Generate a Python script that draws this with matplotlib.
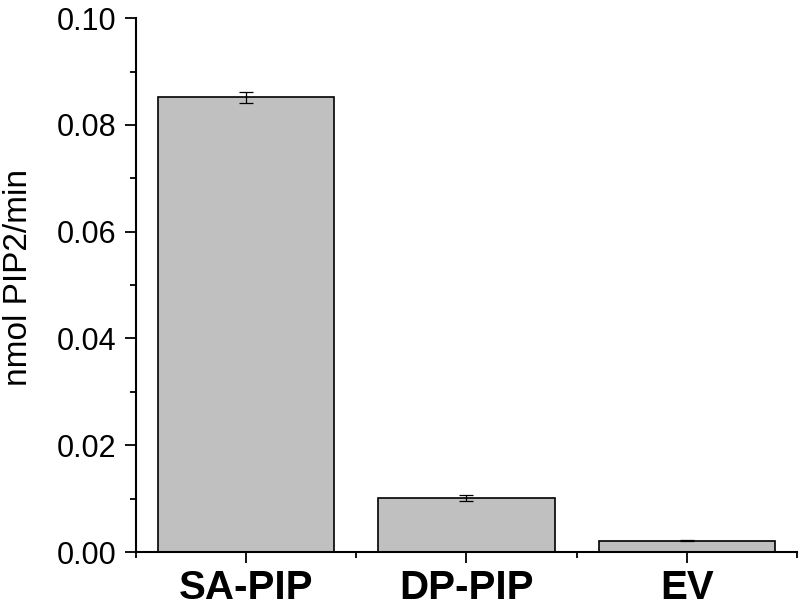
import matplotlib
matplotlib.use("Agg")
import matplotlib.pyplot as plt
from matplotlib.ticker import MultipleLocator, FixedLocator, FormatStrFormatter

# values
categories = ["SA-PIP", "DP-PIP", "EV"]
rates = [0.0852, 0.0101, 0.0021]
errors = [0.0010, 0.0005, 0.0001]

plt.rcParams["font.family"] = ["Liberation Sans", "DejaVu Sans"]

fig = plt.figure(figsize=(8.0, 6.07), dpi=100)
ax = fig.add_axes([0.17, 0.0906, 0.826, 0.8794])

x = list(range(1, len(categories) + 1))
ax.bar(x, rates, width=0.8, color="#c0c0c0", edgecolor="black", linewidth=1.2,
       yerr=errors, error_kw=dict(ecolor="black", elinewidth=0.9, capsize=5, capthick=0.9))

ax.set_xlim(0.5, 3.5)
ax.set_ylim(0, 0.10)
ax.set_xticks(x)
ax.set_xticklabels(categories, fontsize=29, fontweight="bold")
ax.xaxis.set_minor_locator(FixedLocator([0.5, 1.5, 2.5, 3.5]))
ax.yaxis.set_major_locator(MultipleLocator(0.02))
ax.yaxis.set_minor_locator(MultipleLocator(0.01))
ax.yaxis.set_major_formatter(FormatStrFormatter("%.2f"))
for lab in ax.get_yticklabels():
    lab.set_fontsize(22)

ax.set_ylabel("nmol PIP2/min", fontsize=24)
ax.yaxis.set_label_coords(-0.155, 0.515)

for side in ("top", "right"):
    ax.spines[side].set_visible(False)
for side in ("left", "bottom"):
    ax.spines[side].set_linewidth(1.5)

ax.tick_params(axis="both", which="major", direction="out", length=8, width=1.3)
ax.tick_params(axis="both", which="minor", direction="out", length=4, width=1.3)
ax.tick_params(axis="x", which="major", pad=4)
ax.tick_params(axis="y", which="major", pad=6)

fig.savefig("out.png", dpi=100)
